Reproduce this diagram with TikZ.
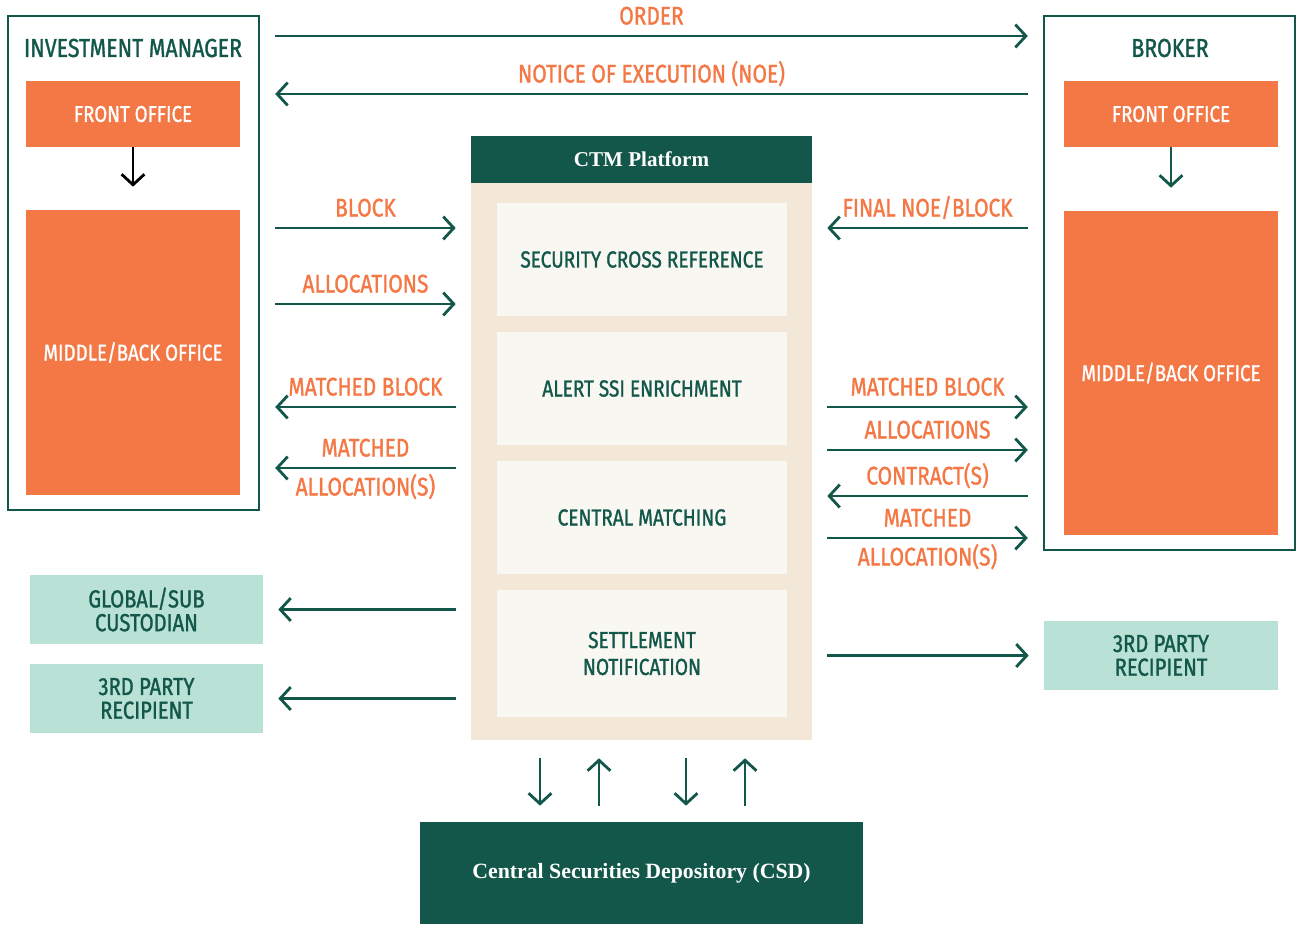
\documentclass[tikz,border=0pt]{standalone}
\usepackage{fontspec}
\setmainfont{Fira Sans}[FakeStretch=0.82, FakeBold=1.2]
\newfontfamily\ctmserif{Liberation Serif}
\usetikzlibrary{arrows.meta,positioning}

\definecolor{ctmgreen}{HTML}{12574A}
\definecolor{ctmorange}{HTML}{F47846}
\definecolor{ctmmint}{HTML}{B9E1D5}
\definecolor{ctmbeige}{HTML}{F3E7D8}
\definecolor{ctmpale}{HTML}{F9F7F2}

\tikzset{
  party/.style={draw=ctmgreen, line width=1.4pt, inner sep=0pt},
  office/.style={fill=ctmorange, text=white, inner sep=0pt, align=center,
    minimum width=4.28cm, font=\fontsize{13}{15}\selectfont},
  stage/.style={fill=ctmpale, text=ctmgreen, inner sep=0pt, align=center,
    minimum width=5.8cm, font=\fontsize{13.2}{15.3}\selectfont},
  receiver/.style={fill=ctmmint, text=ctmgreen, inner sep=0pt, align=center,
    minimum height=1.38cm, font=\fontsize{14}{13.5}\selectfont},
  title/.style={text=ctmgreen, inner sep=0pt, font=\fontsize{14.8}{16}\selectfont},
  lbl/.style={text=ctmorange, inner sep=0pt, anchor=base, font=\fontsize{14.5}{16}\selectfont},
  flow/.style={draw=ctmgreen, line width=1.6pt, shorten <=0.3cm, shorten >=0.3cm,
    -{Straight Barb[length=6pt,width=13pt]}},
  drop/.style={line width=1.6pt, shorten >=0.46cm,
    -{Straight Barb[length=6pt,width=13pt]}},
  updown/.style={draw=ctmgreen, line width=1.6pt, -{Straight Barb[length=6pt,width=13pt]}},
}

\begin{document}
\begin{tikzpicture}[x=0.02cm, y=-0.02cm]
  \useasboundingbox (0,0) rectangle (1297,924);

  % investment manager
  \node[party, minimum width=5.02cm, minimum height=9.88cm] (im) at (133.5,263) {};
  \node[title] (imtitle) at (133,48) {INVESTMENT MANAGER};
  \node[office, minimum height=1.32cm] (imfront) at (133,114) {FRONT OFFICE};
  \node[office, minimum height=5.7cm] (imback) at (133,352.5) {MIDDLE/BACK OFFICE};
  \draw[drop, black] (imfront) -- (imback);

  % broker
  \node[party, minimum width=5.02cm, minimum height=10.68cm] (broker) at (1169.5,283) {};
  \node[title] (brtitle) at (1170,48) {BROKER};
  \node[office, minimum height=1.32cm] (brfront) at (1171,114) {FRONT OFFICE};
  \node[office, minimum height=6.48cm] (brback) at (1171,373) {MIDDLE/BACK OFFICE};
  \draw[drop, ctmgreen] (brfront) -- (brback);

  % ctm platform
  \node[fill=ctmbeige, inner sep=0pt, minimum width=6.82cm, minimum height=12.08cm] (ctm) at (641.5,438) {};
  \node[fill=ctmgreen, text=white, inner sep=0pt, minimum width=6.82cm, minimum height=0.94cm,
    font=\ctmserif\bfseries\fontsize{12}{14}\selectfont] (ctmhead) at (641.5,159.5) {CTM Platform};
  \node[stage, minimum height=2.26cm] (xref) at (642,259.5) {SECURITY CROSS REFERENCE};
  \node[stage, minimum height=2.26cm] (ssi) at (642,388.5) {ALERT SSI ENRICHMENT};
  \node[stage, minimum height=2.26cm] (match) at (642,517.5) {CENTRAL MATCHING};
  \node[stage, minimum height=2.54cm] (settle) at (642,653.5) {SETTLEMENT\\NOTIFICATION};

  % receivers
  \node[receiver, minimum width=4.66cm] (custodian) at (146.5,609.5) {GLOBAL/SUB\\CUSTODIAN};
  \node[receiver, minimum width=4.66cm] (thirdl) at (146.5,698.5) {3RD PARTY\\RECIPIENT};
  \node[receiver, minimum width=4.68cm] (thirdr) at (1161,655.5) {3RD PARTY\\RECIPIENT};

  % csd
  \node[fill=ctmgreen, text=white, inner sep=0pt, minimum width=8.86cm, minimum height=2.04cm,
    font=\ctmserif\bfseries\fontsize{12.4}{15}\selectfont] (csd) at (641.5,873) {Central Securities Depository (CSD)};

  % manager <-> broker
  \draw[flow] (im.east |- 0,36) -- (broker.west |- 0,36)
    node[lbl, midway, yshift=0.23cm] {ORDER};
  \draw[flow] (broker.west |- 0,94) -- (im.east |- 0,94)
    node[lbl, midway, yshift=0.23cm] {NOTICE OF EXECUTION (NOE)};

  % manager <-> ctm
  \draw[flow] (im.east |- 0,228) -- (ctm.west |- 0,228)
    node[lbl, midway, yshift=0.23cm] {BLOCK};
  \draw[flow] (im.east |- 0,304) -- (ctm.west |- 0,304)
    node[lbl, midway, yshift=0.23cm] {ALLOCATIONS};
  \draw[flow] (ctm.west |- 0,407) -- (im.east |- 0,407)
    node[lbl, midway, yshift=0.23cm] {MATCHED BLOCK};
  \draw[flow] (ctm.west |- 0,468) -- (im.east |- 0,468)
    node[lbl, midway, yshift=0.23cm] {MATCHED}
    node[lbl, midway, yshift=-0.55cm] {ALLOCATION(S)};

  % broker <-> ctm
  \draw[flow] (broker.west |- 0,228) -- (ctm.east |- 0,228)
    node[lbl, midway, yshift=0.23cm] {FINAL NOE/BLOCK};
  \draw[flow] (ctm.east |- 0,407) -- (broker.west |- 0,407)
    node[lbl, midway, yshift=0.23cm] {MATCHED BLOCK};
  \draw[flow] (ctm.east |- 0,450) -- (broker.west |- 0,450)
    node[lbl, midway, yshift=0.23cm] {ALLOCATIONS};
  \draw[flow] (broker.west |- 0,496) -- (ctm.east |- 0,496)
    node[lbl, midway, yshift=0.23cm] {CONTRACT(S)};
  \draw[flow] (ctm.east |- 0,538) -- (broker.west |- 0,538)
    node[lbl, midway, yshift=0.23cm] {MATCHED}
    node[lbl, midway, yshift=-0.55cm] {ALLOCATION(S)};

  % notifications
  \draw[flow] (ctm.west |- custodian) -- (custodian);
  \draw[flow] (ctm.west |- thirdl) -- (thirdl);
  \draw[flow] (ctm.east |- thirdr) -- (thirdr);

  % ctm <-> csd
  \draw[updown, shorten <=0.36cm, shorten >=0.32cm] (540,0 |- ctm.south) -- (540,0 |- csd.north);
  \draw[updown, shorten <=0.32cm, shorten >=0.36cm] (599,0 |- csd.north) -- (599,0 |- ctm.south);
  \draw[updown, shorten <=0.36cm, shorten >=0.32cm] (686,0 |- ctm.south) -- (686,0 |- csd.north);
  \draw[updown, shorten <=0.32cm, shorten >=0.36cm] (745,0 |- csd.north) -- (745,0 |- ctm.south);
\end{tikzpicture}
\end{document}
